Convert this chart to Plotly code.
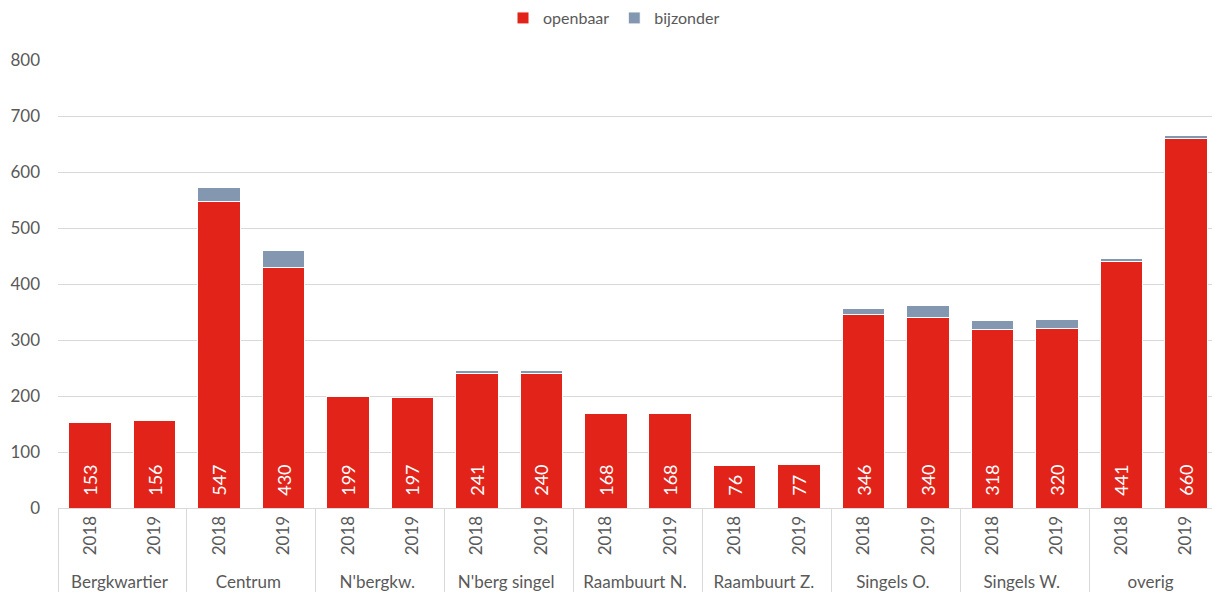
import plotly.graph_objects as go

wijken = ["Bergkwartier", "Centrum", "N'bergkw.", "N'berg singel", "Raambuurt N.",
          "Raambuurt Z.", "Singels O.", "Singels W.", "overig"]
jaren = ["2018", "2019"]
openbaar = [153, 156, 547, 430, 199, 197, 241, 240, 168, 168, 76, 77, 346, 340, 318, 320, 441, 660]
bijzonder = [0, 0, 26, 29, 0, 0, 5, 5, 0, 0, 0, 0, 11, 21, 16, 16, 5, 5]

x_wijk = [w for w in wijken for _ in jaren]
x_jaar = [j for _ in wijken for j in jaren]

RED = "#E2231A"
GRAY = "#8497B0"

fig = go.Figure()
fig.add_trace(go.Bar(
    x=[x_wijk, x_jaar], y=openbaar, name="openbaar",
    marker=dict(color=RED, line=dict(color="white", width=1)),
    text=["\u00a0\u00a0" + str(v) for v in openbaar], textposition="inside",
    insidetextanchor="start", textangle=-90,
    textfont=dict(color="white", size=18, family="Lato"),
))
fig.add_trace(go.Bar(
    x=[x_wijk, x_jaar], y=bijzonder, name="bijzonder",
    marker=dict(color=GRAY, line=dict(color="white", width=1)),
))

# page body has an 8px margin, so the figure is drawn 8px smaller and margins adjusted
fig.update_layout(
    barmode="stack", bargap=0.34,
    width=1212, height=591,
    paper_bgcolor="white", plot_bgcolor="white",
    margin=dict(l=50, r=2, t=52, b=91, autoexpand=False),
    font=dict(family="Lato", color="#595959", size=17),
    legend=dict(orientation="h", x=0.5, xanchor="center", xref="container",
                y=0.983, yanchor="middle", yref="container",
                font=dict(size=16), itemwidth=30,
                traceorder="normal", tracegroupgap=0),
    yaxis=dict(range=[0, 800], dtick=100, showgrid=True, gridcolor="#D9D9D9",
               gridwidth=1, zeroline=False, showline=False, ticks="",
               tickfont=dict(size=17), automargin=False, ticklabelstandoff=17),
    xaxis=dict(type="multicategory", tickangle=-90, showline=True, linecolor="#D9D9D9",
               showdividers=True, dividercolor="#D9D9D9", dividerwidth=1,
               tickfont=dict(size=17), ticks="", automargin=False),
)

fig.write_html("out.html")
